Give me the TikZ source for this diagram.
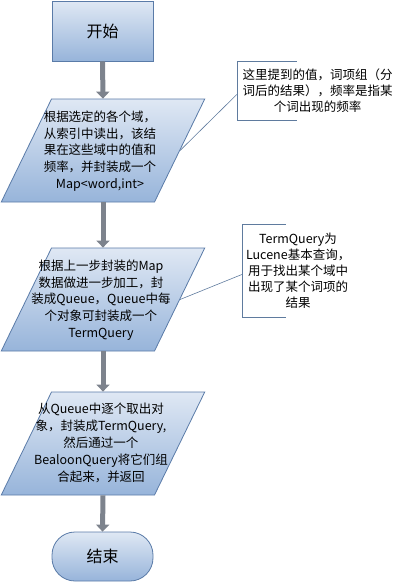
\documentclass[tikz,border=0pt]{standalone}
\usepackage{fontspec}
\setmainfont{Noto Sans CJK SC}
\usepackage{xcolor}
\usepackage{tikz}
\usetikzlibrary{shapes.geometric,arrows.meta}

\definecolor{boxtop}{HTML}{DFE8F4}
\definecolor{boxbot}{HTML}{97B4DA}
\definecolor{boxline}{HTML}{5A7BA8}
\definecolor{flowgray}{HTML}{7D838D}
\definecolor{noteline}{HTML}{5F7B9E}

\tikzset{
  stepshade/.style={draw=boxline, line width=0.8pt, top color=boxtop, bottom color=boxbot},
  terminal/.style={stepshade, rectangle, minimum width=101pt, minimum height=60pt,
    font=\fontsize{16}{18}\selectfont},
  stopbox/.style={stepshade, rectangle, rounded corners=23pt, minimum width=101pt,
    minimum height=49pt, font=\fontsize{16}{18}\selectfont},
  iobox/.style={stepshade, trapezium, trapezium left angle=64, trapezium right angle=116,
    minimum width=200pt, minimum height=103pt, inner sep=1pt},
  iotext/.style={align=center, font=\fontsize{12.5}{16.8}\selectfont, inner sep=0pt},
  note/.style={align=center, font=\fontsize{12.5}{16}\selectfont, inner xsep=3pt},
  flow/.style={flowgray, line width=5pt, -{Triangle[width=13pt,length=7pt]}},
  leader/.style={noteline, line width=0.6pt}
}

\begin{document}
\begin{tikzpicture}[x=1pt,y=-1pt]
  \useasboundingbox (0,0) rectangle (402,582);
  % flow steps
  \node[terminal] (start) at (102.5,31) {开始};
  \node[iobox] (p1) at (103,150.5) {};
  \node[iobox] (p2) at (103,299.5) {};
  \node[iobox] (p3) at (103,443.5) {};
  \node[stopbox] (stop) at (102.5,556.5) {结束};
  \node[iotext] (t1) at (100,151) {根据选定的各个域，\\从索引中读出，该结\\果在这些域中的值和\\频率，并封装成一个\\Map<word,int>};
  \node[iotext] (t2) at (101,300) {根据上一步封装的Map\\数据做进一步加工，封\\装成Queue，Queue中每\\个对象可封装成一个\\TermQuery};
  \node[iotext] (t3) at (101,443) {从Queue中逐个取出对\\象，封装成TermQuery,\\然后通过一个\\BealoonQuery将它们组\\合起来，并返回};
  \foreach \a/\b in {start/p1,p1/p2,p2/p3,p3/stop} {
    \draw[flow] (\a.south) -- (\b.north);
  }
  % notes
  \node[note, text width=155pt, minimum height=59pt] (n1) at (317.5,90.5)
    {这里提到的值，词项组（分\\词后的结果），频率是指某\\个词出现的频率};
  \node[note, text width=104pt, minimum height=93pt, inner xsep=4pt] (n2) at (298,270.5)
    {TermQuery为\\Lucene基本查询，\\用于找出某个域中\\出现了某个词项的\\结果};
  \foreach \n/\p/\w in {n1/p1/60,n2/p2/44} {
    \draw[leader] ([xshift=\w pt]\n.north west) -- (\n.north west) -- (\n.south west) -- ++(\w,0);
    \draw[leader] ([yshift=-4pt]\n.west) -- (\p.east);
  }
\end{tikzpicture}
\end{document}
